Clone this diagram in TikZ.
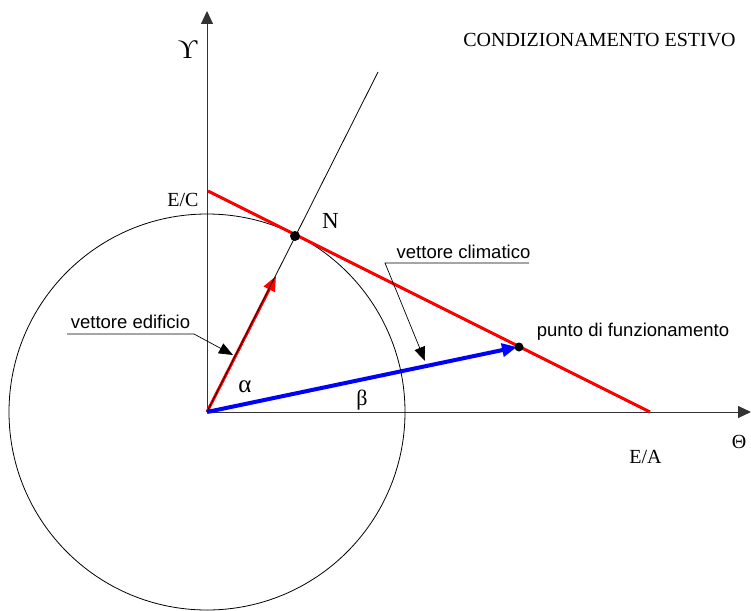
\documentclass[tikz,border=0pt]{standalone}
\usepackage{fontspec}
\setmainfont{Liberation Serif}
\newfontfamily\arialf{Liberation Sans}
\usetikzlibrary{arrows.meta}
\begin{document}
\begin{tikzpicture}[x=1pt,y=-1pt,
 serif/.style={font=\fontsize{20}{24}\selectfont, inner sep=0pt, anchor=base},
 big/.style={font=\fontsize{#1}{#1}\selectfont},
 sans/.style={font=\arialf\fontsize{18.5}{22}\selectfont, inner sep=0pt, anchor=base},
 axis/.style={line width=1pt, draw=black!80, -{Triangle[length=13pt,width=12pt]}},
 dotn/.style={circle, fill=black, inner sep=0pt},
 leader/.style={line width=0.7pt, -{Triangle[length=14pt,width=11pt]}},
 thin line/.style={line width=0.8pt}
]
\useasboundingbox (0,0) rectangle (751,610);
% points
\coordinate (O) at (207,412);
\coordinate (Ytip) at (207,11);
\coordinate (Xtip) at (751,412);
\coordinate (Ltop) at (378,72);
\coordinate (EC) at (208,191);
\coordinate (EA) at (650,412);
\coordinate (Rtip) at (276,276);
\coordinate (Btip) at (517,347);
% axes
\draw[axis] (O) -- (Ytip);
\draw[axis] (O) -- (Xtip);
% circle
\draw[thin line] (O) circle[radius=198];
% climatic line
\draw[red, line width=3pt] (EC) -- (EA);
% vectors
\draw[red, line width=3pt, -{Triangle[length=15pt,width=12pt]}] (O) -- (Rtip);
\draw[thin line] (O) -- (Ltop);
\draw[blue, line width=4pt, -{Triangle[length=15pt,width=13pt]}] (O) -- (Btip);
% dots
\node[dotn, minimum size=10pt] (N) at (295,236) {};
\node[dotn, minimum size=9pt] (P) at (519,347) {};
% labels
\node[serif] (title) at (599.5,47) {CONDIZIONAMENTO ESTIVO};
\node[serif, big=27] (ylab) at (187.5,58) {ϒ};
\node[serif] (eclab) at (183,206) {E/C};
\node[serif, big=23] (nlab) at (330.5,228) {N};
\node[serif, big=25] (alab) at (245,392) {α};
\node[serif, big=22, anchor=center] (blab) at (362,400) {β};
\node[serif] (tlab) at (739,448) {Θ};
\node[serif] (ealab) at (645.5,463) {E/A};
\node[sans] (ve) at (130.5,328) {vettore edificio};
\node[sans] (vc) at (463.5,258) {vettore climatico};
\node[sans] (pf) at (633,336) {punto di funzionamento};
% leaders
\coordinate (veL) at (67,334);
\coordinate (veR) at (194,334);
\coordinate (veT) at (233,355);
\draw[leader] (veL) -- (veR) -- (veT);
\coordinate (vcR) at (529,263);
\coordinate (vcL) at (385,263);
\coordinate (vcT) at (425,361);
\draw[leader] (vcR) -- (vcL) -- (vcT);
\end{tikzpicture}
\end{document}
